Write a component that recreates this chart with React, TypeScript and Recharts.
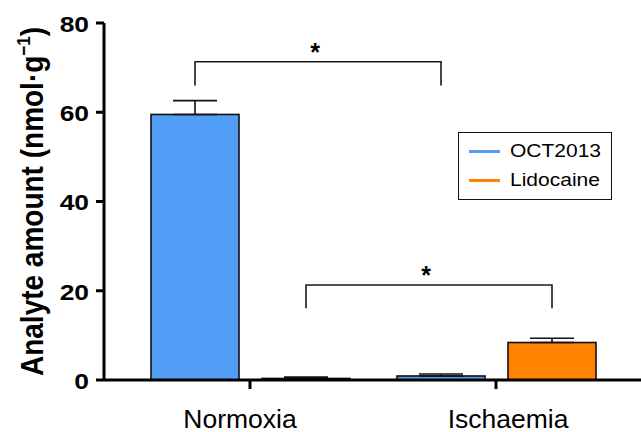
import { Bar, BarChart, ErrorBar, Legend, XAxis, YAxis } from "recharts";

const groups = ["Normoxia", "Ischaemia"];
const seriesNames = ["OCT2013", "Lidocaine"];
const oct2013 = [59.5, 0.9];
const oct2013Err = [3.1, 0.45];
const lidocaine = [0.35, 8.4];
const lidocaineErr = [0.3, 0.95];
const yTicks = [0, 20, 40, 60, 80];

// significance brackets: which series, bracket height, where the legs stop
const bracketSeries = ["oct2013", "lidocaine"];
const bracketTop = [71.3, 21.3];
const bracketLegEnd = [66, 16.1];
const bracketText = ["*", "*"];

const data = groups.map((group, i) => ({
  group,
  oct2013: oct2013[i],
  oct2013Err: [0, oct2013Err[i]],
  lidocaine: lidocaine[i],
  lidocaineErr: [0, lidocaineErr[i]],
}));

const FONT = "'Liberation Sans', Arial, sans-serif";
const xLabelShift = [-10, 12];

// bar centres per series, plus the y scale picked up from the tallest bar
const geom: { centers: Record<string, number[]>; base?: number; ppu?: number } = {
  centers: {},
};

function makeShape(key: string) {
  return (props: any) => {
    const { x, y, width, height, fill, payload } = props;
    const i = groups.indexOf(payload.group);
    const v = payload[key];
    if (v > 5 && height > 0) {
      geom.ppu = height / v;
      geom.base = y + height;
    }
    if (!geom.centers[key]) geom.centers[key] = [];
    geom.centers[key][i] = x + width / 2;

    const b = bracketSeries.indexOf(key);
    let bracket = null;
    if (b >= 0 && i === groups.length - 1 && geom.ppu && geom.base !== undefined) {
      const [x1, x2] = geom.centers[key];
      const top = geom.base - bracketTop[b] * geom.ppu;
      const leg = geom.base - bracketLegEnd[b] * geom.ppu;
      bracket = (
        <g>
          <path
            d={`M${x1},${leg}V${top}H${x2}V${leg}`}
            fill="none"
            stroke="#1a1a1a"
            strokeWidth={1.6}
          />
          <text
            x={(x1 + x2) / 2 - 3}
            y={top - 1}
            textAnchor="middle"
            fontSize={25}
            fontWeight="bold"
            fontFamily={FONT}
          >
            {bracketText[b]}
          </text>
        </g>
      );
    }
    return (
      <g>
        <rect x={x} y={y} width={width} height={height} fill={fill} stroke="#111" strokeWidth={1.6} />
        {bracket}
      </g>
    );
  };
}

function YTick({ x, y, payload }: any) {
  return (
    <g transform={`translate(${x},${y}) scale(1.2,1)`}>
      <text textAnchor="end" dy="0.4em" fontSize={22} fontWeight="bold" fontFamily={FONT} fill="#000">
        {payload.value}
      </text>
    </g>
  );
}

function XTick({ x, y, payload, index }: any) {
  return (
    <g transform={`translate(${x + (xLabelShift[index] ?? 0)},${y}) scale(1.06,1)`}>
      <text textAnchor="middle" dy={39} fontSize={25} fontFamily={FONT} fill="#000">
        {payload.value}
      </text>
    </g>
  );
}

function YLabel({ viewBox }: any) {
  const cy = viewBox.y + viewBox.height / 2;
  return (
    <g transform={`translate(43,${cy}) rotate(-90) scale(1,1.12)`}>
      <text textAnchor="middle" fontSize={28} fontWeight="bold" fontFamily={FONT} fill="#000">
        Analyte amount (nmol·g
        <tspan fontSize={17} dy={-12}>−1</tspan>
        <tspan dy={12}>)</tspan>
      </text>
    </g>
  );
}

function LegendBox({ payload }: any) {
  const items = [...(payload || [])].sort(
    (a: any, b: any) => seriesNames.indexOf(a.value) - seriesNames.indexOf(b.value)
  );
  return (
    <div
      style={{
        position: "relative",
        width: 154,
        height: 68,
        boxSizing: "border-box",
        border: "1.5px solid #111",
        background: "#fff",
        fontFamily: FONT,
      }}
    >
      {items.map((p: any, i: number) => (
        <div
          key={p.value}
          style={{
            position: "absolute",
            left: 10,
            top: 4.5 + i * 29.3,
            height: 27,
            display: "flex",
            alignItems: "center",
          }}
        >
          <span style={{ display: "inline-block", width: 31, height: 3, background: p.color }} />
          <span
            style={{
              marginLeft: 10,
              fontSize: 17.5,
              color: "#000",
              display: "inline-block",
              transform: "scaleX(1.2)",
              transformOrigin: "left center",
              whiteSpace: "nowrap",
            }}
          >
            {p.value}
          </span>
        </div>
      ))}
    </div>
  );
}

export default function App() {
  return (
    <div style={{ position: "absolute", left: 0, top: 0, background: "#fff" }}>
      <BarChart
        width={641}
        height={432}
        data={data}
        margin={{ top: 23, right: 0, bottom: 0, left: 0 }}
        barSize={88}
        barGap={23}
      >
        <XAxis
          dataKey="group"
          interval={0}
          height={52}
          padding={{ left: 23, right: 22 }}
          axisLine={{ stroke: "#000", strokeWidth: 3 }}
          tickLine={{ stroke: "#000", strokeWidth: 3 }}
          tickSize={9}
          tickMargin={0}
          tick={<XTick />}
        />
        <YAxis
          domain={[0, 80]}
          ticks={yTicks}
          width={104}
          axisLine={{ stroke: "#000", strokeWidth: 3 }}
          tickLine={{ stroke: "#000", strokeWidth: 3 }}
          tickSize={8}
          tickMargin={7}
          tick={<YTick />}
          label={<YLabel />}
        />
        <Legend
          layout="vertical"
          align="center"
          verticalAlign="middle"
          wrapperStyle={{ position: "absolute", left: 458, top: 132, width: 154, height: 68 }}
          content={<LegendBox />}
        />
        <Bar dataKey="oct2013" name={seriesNames[0]} fill="#529ef7" shape={makeShape("oct2013")} isAnimationActive={false}>
          <ErrorBar dataKey="oct2013Err" width={22} stroke="#111" strokeWidth={1.6} direction="y" />
        </Bar>
        <Bar dataKey="lidocaine" name={seriesNames[1]} fill="#ff8200" shape={makeShape("lidocaine")} isAnimationActive={false}>
          <ErrorBar dataKey="lidocaineErr" width={22} stroke="#111" strokeWidth={1.6} direction="y" />
        </Bar>
      </BarChart>
    </div>
  );
}
